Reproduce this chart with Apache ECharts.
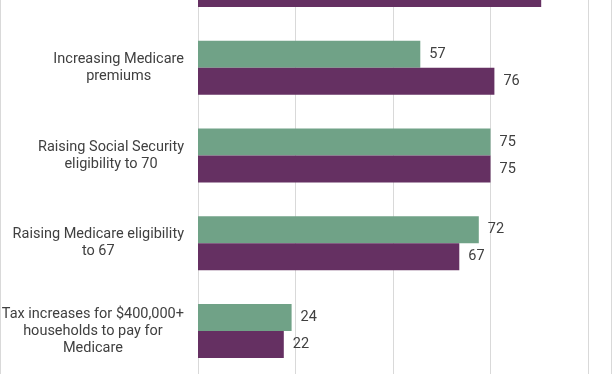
<!DOCTYPE html>
<html>
<head>
<meta charset="utf-8">
<script src="https://cdn.jsdelivr.net/npm/echarts@6/dist/echarts.min.js"></script>
<style>
  html, body { margin: 0; padding: 0; background: #fff; }
  #wrap { position: relative; width: 612px; height: 374px; overflow: hidden; }
  #chart { position: absolute; left: 0; top: 0; width: 612px; height: 374px; }
  .edge { position: absolute; top: 0; width: 1px; height: 374px; background: #d9d9d9; pointer-events: none; }
</style>
</head>
<body>
<div id="wrap">
  <div id="chart"></div>
  <div class="edge" style="left:0"></div>
  <div class="edge" style="left:611px"></div>
</div>
<script>
// Categories, top to bottom (the first one is cut off at the top of the picture)
const categories = [
  '',
  'Increasing Medicare\npremiums',
  'Raising Social Security\neligibility to 70',
  'Raising Medicare eligibility\nto 67',
  'Tax increases for $400,000+\nhouseholds to pay for\nMedicare'
];
// Upper (green) bar of each pair
const greenValues = [null, 57, 75, 72, 24];
// Lower (purple) bar of each pair
const purpleValues = [88, 76, 75, 67, 22];
// X axis ticks
const xMin = 0, xMax = 100, xStep = 25;

const FONT = 'Roboto';
const FSIZE = 14.5;
const TEXT = '#404040';

const chart = echarts.init(document.getElementById('chart'), null, { renderer: 'canvas' });

function wrapLines(value) {
  if (!value) return '';
  return value.split('\n').map(l => '{c|' + l + '}').join('\n');
}

chart.setOption({
  animation: false,
  backgroundColor: '#ffffff',
  grid: { left: 198, right: 24, top: -64, bottom: -1, containLabel: false, outerBoundsMode: 'none' },
  xAxis: {
    type: 'value',
    min: xMin, max: xMax, interval: xStep,
    axisLine: { show: false },
    axisTick: { show: false },
    axisLabel: { show: false },
    splitLine: { show: true, lineStyle: { color: '#d9d9d9', width: 1 } }
  },
  yAxis: {
    type: 'category',
    inverse: true,
    data: categories,
    axisLine: { show: false },
    axisTick: { show: false },
    splitLine: { show: false },
    axisLabel: {
      margin: 14,
      color: TEXT,
      fontFamily: FONT,
      fontSize: FSIZE,
      lineHeight: 17,
      formatter: wrapLines,
      rich: {
        c: { align: 'center', color: TEXT, fontFamily: FONT, fontSize: FSIZE, lineHeight: 17 }
      }
    }
  },
  series: [
    {
      name: 'Green',
      type: 'bar',
      data: greenValues,
      barWidth: 27,
      barGap: '0%',
      itemStyle: { color: '#70a287' },
      label: { show: true, position: 'right', distance: 9, color: TEXT, fontFamily: FONT, fontSize: FSIZE }
    },
    {
      name: 'Purple',
      type: 'bar',
      data: purpleValues,
      barWidth: 27,
      barGap: '0%',
      itemStyle: { color: '#653062' },
      label: { show: true, position: 'right', distance: 9, color: TEXT, fontFamily: FONT, fontSize: FSIZE }
    }
  ]
});
</script>
</body>
</html>
